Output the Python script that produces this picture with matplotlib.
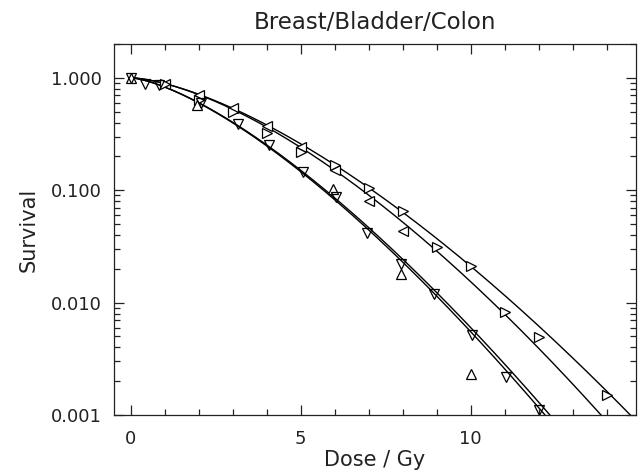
import numpy as np
import matplotlib
matplotlib.use("Agg")
import matplotlib.pyplot as plt
from matplotlib.ticker import FixedLocator, MultipleLocator, FuncFormatter

plt.rcParams["font.family"] = ["DejaVu Sans"]

# measured survival fractions, one list pair per cell line
dose_down = [0, 0.41, 0.84, 2.05, 3.15, 4.07, 5.07, 6.05, 6.95, 7.94, 8.92, 10.03, 11.04, 12.0]
surv_down = [1.0, 0.885, 0.87, 0.60, 0.39, 0.25, 0.146, 0.087, 0.042, 0.022, 0.012, 0.0052, 0.0022, 0.0011]

dose_up = [0, 1.95, 5.95, 7.94, 10.0]
surv_up = [1.0, 0.57, 0.102, 0.018, 0.0023]

dose_left = [1.0, 2.0, 3.0, 4.0, 5.0, 6.0, 7.0, 8.0]
surv_left = [0.885, 0.71, 0.54, 0.37, 0.24, 0.15, 0.081, 0.043]

dose_right = [1, 2, 3, 4, 5, 6, 7, 8, 9, 10, 11, 12, 14]
surv_right = [0.88, 0.63, 0.50, 0.32, 0.22, 0.167, 0.104, 0.066, 0.031, 0.021, 0.0082, 0.0049, 0.0015]

# fitted curves, -ln S = k * D**p
fit_k = [0.119, 0.118, 0.191, 0.189]
fit_p = [1.511, 1.549, 1.435, 1.4325]

ink = "#222222"

fig = plt.figure(figsize=(6.4, 4.73), dpi=100)
ax = fig.add_axes([0.178, 0.1226, 0.816, 0.7844])

d = np.linspace(0, 15, 400)
for k, p in zip(fit_k, fit_p):
    ax.plot(d, np.exp(-k * d ** p), color="black", lw=1.0)

mk = dict(ls="none", mfc="white", mec="black", ms=7, mew=0.9)
ax.plot(dose_left, surv_left, marker="<", **mk)
ax.plot(dose_right, surv_right, marker=">", **mk)
ax.plot(dose_up, surv_up, marker="^", **mk)
ax.plot(dose_down, surv_down, marker="v", mfc="none", ls="none",
        mec="black", ms=7, mew=0.9)

ax.set_yscale("log")
ax.set_xlim(-0.5, 14.87)
ax.set_ylim(0.001, 2.0)

ax.xaxis.set_major_locator(FixedLocator([0, 5, 10]))
ax.xaxis.set_minor_locator(MultipleLocator(1))
ax.yaxis.set_major_locator(FixedLocator([0.001, 0.01, 0.1, 1.0]))
ax.yaxis.set_major_formatter(FuncFormatter(lambda v, pos: "%.3f" % v))

ax.tick_params(which="both", direction="in", top=True, right=True, width=0.9,
               color=ink, labelcolor=ink)
ax.tick_params(which="major", length=7.5, labelsize=13)
ax.tick_params(which="minor", length=4)
ax.tick_params(axis="x", pad=11)
ax.tick_params(axis="y", pad=8.5)
for s in ax.spines.values():
    s.set_linewidth(0.9)
    s.set_color(ink)

ax.set_xlabel("Dose / Gy", fontsize=15, labelpad=1, color=ink)
ax.set_ylabel("Survival", fontsize=15, labelpad=9, color=ink)
ax.set_title("Breast/Bladder/Colon", fontsize=16.5, pad=11, color=ink)

fig.savefig("out.png", dpi=100)
